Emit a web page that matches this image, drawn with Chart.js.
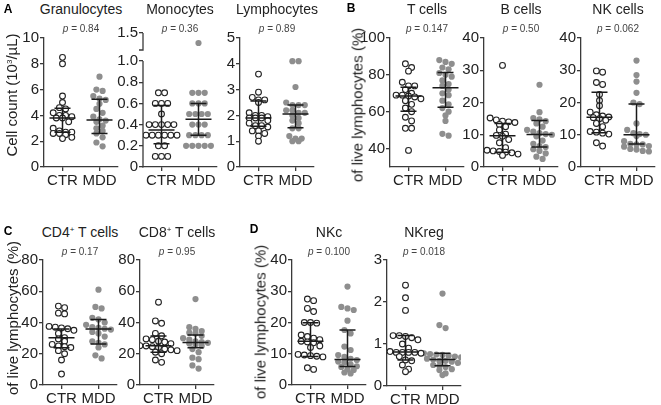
<!DOCTYPE html>
<html>
<head>
<meta charset="utf-8">
<script src="https://cdn.jsdelivr.net/npm/chart.js@4.4.1/dist/chart.umd.min.js"></script>
<style>
  body { margin: 0; background: #fff; font-family: "Liberation Sans", Arial, sans-serif; }
  #fig { position: relative; width: 661px; height: 405px; overflow: hidden; }
  #fig canvas { position: absolute; }
  .t { position: absolute; transform: translate(-50%, -50%); white-space: nowrap; color: #222; }
  .title { font-size: 14px; line-height: 14px; }
  .pv { font-size: 10px; line-height: 10px; color: #444; }
  .lab { font-size: 12px; line-height: 12px; font-weight: bold; color: #000; }
  .ytitle { font-size: 15px; line-height: 15px; transform: translate(-50%, -50%) rotate(-90deg); }
  sup { font-size: 8px; vertical-align: 5px; line-height: 0; }
</style>
</head>
<body>
<div id="fig"></div>
<script>
// groups and panel names
const groups = ['CTR', 'MDD'];
const titles = ['Granulocytes', 'Monocytes', 'Lymphocytes', 'T cells', 'B cells', 'NK cells',
  'CD4<sup>+</sup> T cells', 'CD8<sup>+</sup> T cells', 'NKc', 'NKreg'];
const pValues = ['0.84', '0.36', '0.89', '0.147', '0.50', '0.062', '0.17', '0.95', '0.100', '0.018'];

// individual values
const granCTR = [8.5, 8.0, 5.5, 5.0, 4.6, 4.5, 4.2, 4.0, 4.0, 3.9, 3.8, 3.8, 3.5, 3.0, 2.8, 2.7, 2.7, 2.6, 2.6, 2.5, 2.3, 2.2];
const granMDD = [7.0, 6.0, 5.9, 5.5, 5.3, 5.2, 4.9, 4.5, 4.2, 3.9, 3.7, 3.6, 3.5, 3.2, 3.0, 2.8, 2.6, 2.3, 1.9, 1.6];
const monoCTR = [0.7, 0.7, 0.6, 0.6, 0.6, 0.5, 0.4, 0.4, 0.4, 0.4, 0.4, 0.3, 0.3, 0.3, 0.3, 0.3, 0.3, 0.2, 0.2, 0.1, 0.1, 0.1];
const monoMDD = [1.4, 0.7, 0.7, 0.7, 0.6, 0.6, 0.6, 0.5, 0.5, 0.5, 0.5, 0.4, 0.4, 0.4, 0.3, 0.3, 0.3, 0.3, 0.2, 0.2, 0.2, 0.2, 0.2];
const lymphCTR = [3.6, 2.9, 2.7, 2.6, 2.6, 2.5, 2.1, 2.0, 2.0, 1.95, 1.9, 1.9, 1.9, 1.8, 1.7, 1.6, 1.6, 1.55, 1.4, 1.4, 1.3, 1.2, 1.0];
const lymphMDD = [4.1, 4.1, 3.1, 2.5, 2.4, 2.4, 2.4, 2.2, 2.2, 2.1, 2.1, 2.0, 1.9, 1.8, 1.7, 1.5, 1.5, 1.2, 1.1, 1.1, 1.0, 1.0];
const tCTR = [86, 84, 82, 76, 74, 74, 72, 70, 69, 69, 68.5, 68, 67, 66, 64, 62, 60, 57, 55, 51, 51, 39];
const tMDD = [88, 87, 86, 84, 83, 81, 80, 79, 77, 75, 74, 72, 70, 69, 66, 64, 62, 60, 58, 55, 48, 47];
const bCTR = [31.5, 15.2, 14.6, 14.2, 14.0, 13.8, 13.2, 12.5, 11.5, 10.2, 9.8, 9.5, 8.5, 7.5, 6.0, 5.2, 5.0, 4.8, 4.6, 4.4, 4.0, 3.6];
const bMDD = [25.5, 17, 15.2, 14.8, 14.2, 13.5, 12.5, 11.5, 11.0, 10.5, 10.2, 10.0, 9.5, 8.2, 7.2, 6.5, 6.2, 5.5, 5.0, 4.2, 3.2, 2.5];
const nkCTR = [29.8, 29.4, 26.2, 25.6, 22.5, 20.6, 19.0, 17.0, 16.2, 15.8, 15.5, 15.3, 15.0, 14.5, 13.5, 12.5, 11.0, 10.8, 10.5, 10.2, 7.5, 6.5];
const nkMDD = [33, 28.5, 26.5, 23, 20, 19.5, 13.5, 11.5, 10.5, 10.2, 10.0, 9.6, 8.0, 7.2, 7.0, 7.0, 6.5, 6.3, 5.6, 5.4, 5.0, 4.8];
const cd4CTR = [50.5, 49.5, 46, 45.5, 37.5, 37, 36.5, 36, 35, 33, 30.3, 29.5, 28, 26, 25, 24.5, 24, 22, 20, 16, 7];
const cd4MDD = [61, 50, 49, 43, 42, 40, 38.5, 37, 36.5, 36, 35.5, 34, 33, 31, 28, 27, 26, 24, 19, 17];
const cd8CTR = [53, 41, 39.5, 33, 31.5, 29.5, 29, 28, 27.5, 26.5, 25.2, 25, 24.5, 24, 23, 22.5, 22, 21, 20, 16, 14.5];
const cd8MDD = [55, 37, 36, 34.5, 33.5, 33, 31.5, 30, 29, 28, 27.5, 27, 26.5, 26, 25, 23, 21, 17.5, 16.5, 12.5, 10.5];
const nkcCTR = [27.5, 27, 24.5, 23.5, 20, 20, 19.8, 16, 15.5, 15, 14.5, 14, 13.8, 13.5, 12.5, 12, 9.8, 9.6, 9.4, 9.2, 9, 5.5, 5];
const nkcMDD = [31.5, 25, 24.5, 24, 20.6, 17.6, 16.5, 12.3, 11.2, 9.6, 9.0, 8.4, 8.0, 7.5, 7.2, 6.5, 6.0, 5.8, 5.0, 4.8, 4.0, 3.7];
const nkregCTR = [2.4, 2.1, 1.8, 1.2, 1.2, 1.18, 1.15, 1.1, 1.0, 0.9, 0.82, 0.8, 0.8, 0.8, 0.8, 0.78, 0.7, 0.62, 0.6, 0.5, 0.4, 0.34];
const nkregMDD = [2.2, 1.45, 1.38, 0.78, 0.76, 0.75, 0.74, 0.72, 0.7, 0.68, 0.65, 0.63, 0.6, 0.6, 0.58, 0.55, 0.5, 0.48, 0.45, 0.4, 0.38, 0.3, 0.26];

// median and interquartile range drawn as bars [CTR, MDD]
const medians = [[3.8, 3.65], [0.35, 0.45], [1.9, 2.05], [68.5, 73], [9.7, 10.1], [15.4, 10.0], [30.3, 35.8], [25.2, 27.2], [14.0, 8.2], [0.81, 0.63]];
const lowerQ = [[2.7, 2.6], [0.22, 0.3], [1.58, 1.52], [60.2, 62.4], [4.6, 6.2], [10.6, 7.1], [23.9, 26.2], [20.9, 23.9], [9.1, 5.9], [0.62, 0.48]];
const upperQ = [[4.55, 5.25], [0.58, 0.6], [2.56, 2.4], [73.3, 81.3], [13.5, 14.4], [23.2, 19.5], [35.8, 42], [31.3, 32], [19.9, 17.6], [1.2, 0.78]];

// y axes
const yMin = [0, 0, 0, 30, 0, 0, 0, 0, 0, 0];
const yMax = [10, 1.5, 5, 100, 40, 40, 80, 80, 40, 3];
const yTicks = [
  [0, 2, 4, 6, 8, 10], [0, 0.2, 0.4, 0.6, 0.8, 1.0, 1.5], [0, 1, 2, 3, 4, 5], [40, 60, 80, 100],
  [0, 10, 20, 30, 40], [0, 10, 20, 30, 40], [0, 20, 40, 60, 80], [0, 20, 40, 60, 80],
  [0, 10, 20, 30, 40], [0, 1, 2, 3]
];

const values = [[granCTR, granMDD], [monoCTR, monoMDD], [lymphCTR, lymphMDD], [tCTR, tMDD], [bCTR, bMDD],
  [nkCTR, nkMDD], [cd4CTR, cd4MDD], [cd8CTR, cd8MDD], [nkcCTR, nkcMDD], [nkregCTR, nkregMDD]];

// where each plot sits on the page (axis x, top and bottom of the y axis)
const place = [
  { x: 44, top: 38, bottom: 167 }, { x: 143, top: 33, bottom: 167 }, { x: 240, top: 38, bottom: 167 },
  { x: 390, top: 38, bottom: 167 }, { x: 484, top: 38, bottom: 167 }, { x: 581, top: 38, bottom: 167 },
  { x: 43, top: 260, bottom: 385 }, { x: 140, top: 260, bottom: 385 },
  { x: 292, top: 260, bottom: 385 }, { x: 387, top: 260, bottom: 386 }
];
const PLOT_W = 74, LEFT_W = 40, PAD_TOP = 12, PAD_RIGHT = 6, BOTTOM_H = 24;
const FONT = '"Liberation Sans", Arial, sans-serif';
const AXIS = '#3a3a3a';

// monocytes: broken y axis, 0-1.0 below the break and 1.4-1.5 above it
class BrokenScale extends Chart.LinearScale {
  getPixelForValue(value) {
    const d = value <= 1.2 ? value * 0.791 : 1 - (1.5 - value) * 0.746;
    return this.getPixelForDecimal(d);
  }
}
BrokenScale.id = 'broken';
BrokenScale.defaults = Chart.LinearScale.defaults;
Chart.register(BrokenScale);

// median + IQR bars, and the axis break
const iqrPlugin = {
  id: 'iqr',
  afterDatasetsDraw(chart, args, opts) {
    const { ctx } = chart;
    const x = chart.scales.x, y = chart.scales.y;
    ctx.save();
    ctx.strokeStyle = '#1a1a1a';
    ctx.lineWidth = 1.5;
    opts.med.forEach((m, g) => {
      const cx = x.getPixelForValue(g + 0.5);
      const ym = y.getPixelForValue(m), yl = y.getPixelForValue(opts.lo[g]), yh = y.getPixelForValue(opts.hi[g]);
      ctx.beginPath();
      ctx.moveTo(cx - 13, ym); ctx.lineTo(cx + 13, ym);
      ctx.moveTo(cx - 8, yl); ctx.lineTo(cx + 8, yl);
      ctx.moveTo(cx - 8, yh); ctx.lineTo(cx + 8, yh);
      ctx.moveTo(cx, yl); ctx.lineTo(cx, yh);
      ctx.stroke();
    });
    if (opts.broken) {
      const ax = chart.chartArea.left;
      const yTop = y.getPixelForValue(1.5);
      ctx.strokeStyle = AXIS;
      ctx.lineWidth = 1.3;
      ctx.beginPath();
      ctx.moveTo(ax, y.getPixelForValue(0) + 0.5); ctx.lineTo(ax, y.getPixelForValue(1.0));
      ctx.moveTo(ax, yTop); ctx.lineTo(ax, yTop + 17); ctx.lineTo(ax - 4, yTop + 17);
      ctx.stroke();
    }
    ctx.restore();
  }
};

// spread dots of the same height sideways, in rows (like a dot plot)
function swarm(vals, center, pxPerY, unitPerPxX) {
  const sorted = vals.slice().sort((a, b) => b - a);
  const rows = [];
  sorted.forEach(v => {
    const row = rows[rows.length - 1];
    if (row && (row[0] - v) * pxPerY < 5) row.push(v);
    else rows.push([v]);
  });
  const pts = [];
  rows.forEach(row => {
    row.forEach((v, i) => {
      const dx = (i - (row.length - 1) / 2) * 6.2;
      pts.push({ x: center + dx * unitPerPxX, y: v });
    });
  });
  return pts;
}

const fig = document.getElementById('fig');

function addText(cls, html, x, y) {
  const d = document.createElement('div');
  d.className = 't ' + cls;
  d.innerHTML = html;
  d.style.left = x + 'px';
  d.style.top = y + 'px';
  fig.appendChild(d);
}

values.forEach((pair, i) => {
  const p = place[i];
  const plotH = p.bottom - p.top;
  const broken = i === 1;
  const pxPerY = broken ? 106 : plotH / (yMax[i] - yMin[i]);
  const unitPerPxX = 2 / PLOT_W;

  const canvas = document.createElement('canvas');
  canvas.width = LEFT_W + PLOT_W + PAD_RIGHT;
  canvas.height = PAD_TOP + plotH + BOTTOM_H;
  canvas.style.left = (p.x - LEFT_W) + 'px';
  canvas.style.top = (p.top - PAD_TOP) + 'px';
  fig.appendChild(canvas);

  const cx = p.x + PLOT_W / 2;
  const rowTop = p.top < 100 ? 0 : 222;
  addText('title', titles[i], cx, rowTop + 9 + (rowTop ? 1 : 0));
  addText('pv', '<i>p</i> = ' + pValues[i], cx, rowTop + 29 + (rowTop ? 1 : 0));

  new Chart(canvas, {
    type: 'scatter',
    data: {
      datasets: [
        {
          label: groups[0],
          data: swarm(pair[0], 0.5, pxPerY, unitPerPxX),
          pointRadius: 2.9,
          pointBackgroundColor: '#fff',
          pointBorderColor: '#222',
          pointBorderWidth: 1.1
        },
        {
          label: groups[1],
          data: swarm(pair[1], 1.5, pxPerY, unitPerPxX),
          pointRadius: 3.1,
          pointBackgroundColor: '#8e8e8e',
          pointBorderColor: '#8e8e8e',
          pointBorderWidth: 0
        }
      ]
    },
    options: {
      responsive: false,
      animation: false,
      events: [],
      layout: { padding: { top: PAD_TOP, right: PAD_RIGHT, left: 0, bottom: 0 } },
      plugins: {
        legend: { display: false },
        tooltip: { enabled: false },
        iqr: { med: medians[i], lo: lowerQ[i], hi: upperQ[i], broken: broken }
      },
      scales: {
        x: {
          type: 'linear',
          min: 0,
          max: 2,
          afterBuildTicks: s => { s.ticks = [{ value: 0.5 }, { value: 1.5 }]; },
          afterFit: s => { s.height = BOTTOM_H; },
          ticks: {
            callback: v => groups[v < 1 ? 0 : 1],
            autoSkip: false,
            maxRotation: 0,
            padding: 1,
            color: '#222',
            font: { family: FONT, size: 15 }
          },
          grid: { drawOnChartArea: false, tickLength: 4, color: AXIS, lineWidth: 1.3 },
          border: { color: AXIS, width: 1.3 }
        },
        y: {
          type: broken ? 'broken' : 'linear',
          min: yMin[i],
          max: yMax[i],
          afterBuildTicks: s => { s.ticks = yTicks[i].map(v => ({ value: v })); },
          afterFit: s => { s.width = LEFT_W; },
          ticks: {
            callback: v => broken ? (v === 0 ? '0' : v.toFixed(1)) : String(v),
            padding: 1,
            color: '#222',
            font: { family: FONT, size: 15 }
          },
          grid: { drawOnChartArea: false, tickLength: 4, color: AXIS, lineWidth: 1.3 },
          border: { display: !broken, color: AXIS, width: 1.3 }
        }
      }
    },
    plugins: [iqrPlugin]
  });
});

// panel letters and y axis titles
addText('lab', 'A', 8, 9);
addText('lab', 'B', 351, 8);
addText('lab', 'C', 8, 231);
addText('lab', 'D', 254, 229);
addText('ytitle', 'Cell count (10<sup>3</sup>/µL)', 11, 95);
addText('ytitle', 'of live lymphocytes (%)', 357, 105);
addText('ytitle', 'of live lymphocytes (%)', 12, 318);
addText('ytitle', 'of live lymphocytes (%)', 260, 322);
</script>
</body>
</html>
